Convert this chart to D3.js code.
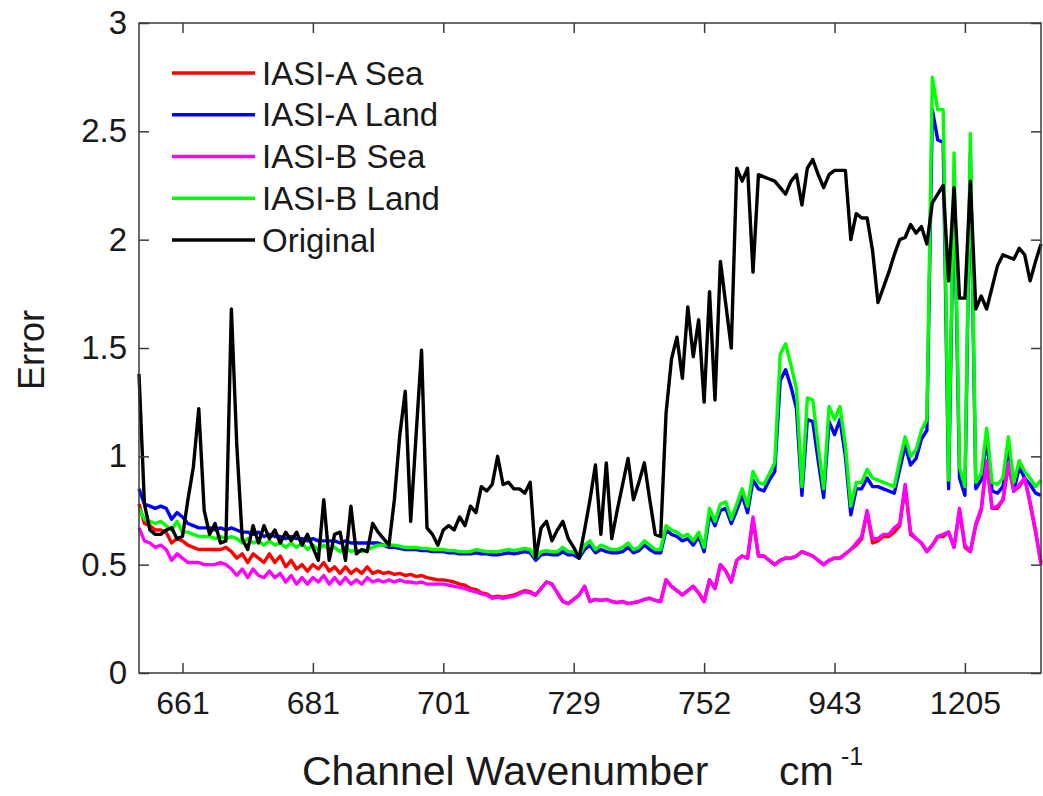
<!DOCTYPE html>
<html>
<head>
<meta charset="utf-8">
<script src="https://cdn.jsdelivr.net/npm/d3@7"></script>
<style>
  body { margin: 0; background: #fff; }
  svg text { font-family: "Liberation Sans", Arial, Helvetica, sans-serif; fill: #1a1a1a; }
</style>
</head>
<body>
<svg id="chart" width="1043" height="796"></svg>
<script>
// channel index 1..167, labelled every 24 channels with wavenumber
const tickChannels = [9, 33, 57, 81, 105, 129, 153];
const tickLabels = ['661', '681', '701', '729', '752', '943', '1205'];
const yTicks = [0, 0.5, 1, 1.5, 2, 2.5, 3];

const iasiASea = [
  0.78, 0.69, 0.68, 0.66, 0.66, 0.65, 0.60, 0.62, 0.61, 0.59,
  0.58, 0.57, 0.57, 0.57, 0.57, 0.57, 0.58, 0.56, 0.53, 0.55,
  0.51, 0.55, 0.53, 0.51, 0.55, 0.51, 0.54, 0.49, 0.52, 0.48,
  0.50, 0.47, 0.50, 0.48, 0.51, 0.47, 0.49, 0.46, 0.49, 0.46,
  0.48, 0.46, 0.49, 0.46, 0.47, 0.46, 0.465, 0.455, 0.46, 0.45,
  0.455, 0.445, 0.45, 0.44, 0.435, 0.43, 0.43, 0.425, 0.42, 0.41,
  0.405, 0.39, 0.385, 0.37, 0.365, 0.35, 0.355, 0.35, 0.355, 0.36,
  0.37, 0.38, 0.375, 0.36, 0.39, 0.42, 0.41, 0.37, 0.33, 0.32,
  0.34, 0.36, 0.40, 0.33, 0.34, 0.335, 0.34, 0.33, 0.325, 0.33,
  0.32, 0.325, 0.33, 0.34, 0.345, 0.335, 0.33, 0.43, 0.40, 0.38,
  0.36, 0.38, 0.40, 0.37, 0.33, 0.43, 0.39, 0.50, 0.47, 0.42,
  0.52, 0.54, 0.53, 0.71, 0.54, 0.54, 0.52, 0.50, 0.52, 0.53,
  0.53, 0.54, 0.56, 0.55, 0.54, 0.52, 0.50, 0.52, 0.53, 0.53,
  0.55, 0.57, 0.59, 0.62, 0.74, 0.60, 0.61, 0.63, 0.63, 0.65,
  0.68, 0.86, 0.64, 0.62, 0.60, 0.56, 0.59, 0.63, 0.63, 0.65,
  0.58, 0.75, 0.58, 0.56, 0.68, 0.75, 0.97, 0.76, 0.76, 0.80,
  0.96, 0.84, 0.86, 0.90, 0.78, 0.65, 0.51
];

const iasiALand = [
  0.85, 0.78, 0.77, 0.76, 0.77, 0.76, 0.71, 0.74, 0.72, 0.69,
  0.68, 0.67, 0.67, 0.67, 0.66, 0.67, 0.66, 0.67, 0.66, 0.65,
  0.65, 0.64, 0.65, 0.63, 0.64, 0.63, 0.63, 0.62, 0.63, 0.62,
  0.62, 0.61, 0.62, 0.61, 0.61, 0.61, 0.61, 0.60, 0.61, 0.60,
  0.60, 0.60, 0.60, 0.60, 0.60, 0.59, 0.58, 0.58, 0.575, 0.57,
  0.57, 0.57, 0.565, 0.565, 0.56, 0.56, 0.56, 0.555, 0.555, 0.55,
  0.55, 0.55, 0.555, 0.55, 0.55, 0.545, 0.545, 0.55, 0.555, 0.55,
  0.555, 0.56, 0.555, 0.52, 0.545, 0.55, 0.545, 0.545, 0.56, 0.545,
  0.545, 0.53, 0.57, 0.59, 0.555, 0.57, 0.56, 0.555, 0.555, 0.56,
  0.58, 0.555, 0.565, 0.59, 0.57, 0.555, 0.555, 0.66, 0.64, 0.63,
  0.61, 0.62, 0.59, 0.63, 0.56, 0.73, 0.68, 0.75, 0.76, 0.69,
  0.75, 0.82, 0.74, 0.89, 0.85, 0.84, 0.89, 0.93, 1.35, 1.40,
  1.32, 1.22, 0.82, 1.17, 1.16, 0.98, 0.81, 1.16, 1.10, 1.17,
  1.00, 0.73, 0.85, 0.85, 0.90, 0.86, 0.86, 0.85, 0.84, 0.83,
  0.94, 1.05, 0.96, 0.99, 1.08, 1.12, 2.60, 2.46, 2.45, 0.85,
  2.30, 0.90, 0.82, 2.40, 0.85, 0.89, 1.08, 0.84, 0.83, 0.86,
  1.05, 0.84, 0.95, 0.90, 0.87, 0.83, 0.82
];

const iasiBSea = [
  0.67, 0.61, 0.60, 0.58, 0.59, 0.57, 0.52, 0.55, 0.53, 0.51,
  0.51, 0.51, 0.50, 0.50, 0.50, 0.51, 0.50, 0.48, 0.45, 0.48,
  0.44, 0.48, 0.45, 0.44, 0.47, 0.44, 0.46, 0.42, 0.45, 0.41,
  0.44, 0.41, 0.44, 0.42, 0.45, 0.41, 0.44, 0.41, 0.44, 0.41,
  0.43, 0.41, 0.44, 0.42, 0.43, 0.42, 0.43, 0.42, 0.43, 0.42,
  0.42, 0.415, 0.42, 0.41, 0.41, 0.41, 0.41, 0.405, 0.40, 0.395,
  0.39, 0.38, 0.375, 0.365, 0.36, 0.345, 0.35, 0.345, 0.35, 0.355,
  0.365, 0.375, 0.37, 0.36, 0.39, 0.42, 0.41, 0.37, 0.33, 0.32,
  0.34, 0.36, 0.40, 0.33, 0.34, 0.335, 0.34, 0.33, 0.325, 0.33,
  0.32, 0.325, 0.33, 0.34, 0.345, 0.335, 0.33, 0.43, 0.40, 0.38,
  0.36, 0.38, 0.40, 0.37, 0.33, 0.43, 0.39, 0.50, 0.47, 0.42,
  0.52, 0.54, 0.53, 0.72, 0.54, 0.54, 0.52, 0.50, 0.52, 0.53,
  0.53, 0.54, 0.56, 0.55, 0.54, 0.52, 0.50, 0.52, 0.53, 0.53,
  0.55, 0.57, 0.60, 0.63, 0.75, 0.62, 0.62, 0.64, 0.64, 0.67,
  0.69, 0.87, 0.65, 0.62, 0.60, 0.56, 0.59, 0.63, 0.64, 0.65,
  0.58, 0.76, 0.59, 0.56, 0.69, 0.76, 0.98, 0.76, 0.77, 0.80,
  0.97, 0.84, 0.87, 0.90, 0.79, 0.66, 0.50
];

const iasiBLand = [
  0.76, 0.71, 0.70, 0.69, 0.70, 0.68, 0.66, 0.70, 0.65, 0.65,
  0.64, 0.63, 0.63, 0.63, 0.62, 0.63, 0.62, 0.63, 0.62, 0.60,
  0.62, 0.60, 0.61, 0.59, 0.61, 0.59, 0.60, 0.58, 0.60, 0.58,
  0.60, 0.57, 0.59, 0.57, 0.59, 0.57, 0.58, 0.56, 0.58, 0.56,
  0.57, 0.56, 0.57, 0.58, 0.59, 0.59, 0.59, 0.59, 0.585, 0.58,
  0.58, 0.58, 0.575, 0.575, 0.57, 0.57, 0.57, 0.565, 0.565, 0.56,
  0.56, 0.56, 0.57, 0.565, 0.56, 0.56, 0.56, 0.565, 0.57, 0.565,
  0.57, 0.575, 0.57, 0.53, 0.56, 0.565, 0.56, 0.56, 0.58, 0.56,
  0.56, 0.54, 0.59, 0.61, 0.57, 0.59, 0.58, 0.57, 0.57, 0.58,
  0.60, 0.57, 0.58, 0.61, 0.59, 0.57, 0.57, 0.68, 0.66, 0.65,
  0.63, 0.64, 0.61, 0.65, 0.58, 0.76, 0.70, 0.78, 0.79, 0.71,
  0.78, 0.85, 0.77, 0.93, 0.88, 0.87, 0.92, 0.97, 1.47, 1.52,
  1.42, 1.31, 0.86, 1.27, 1.26, 1.05, 0.85, 1.23, 1.17, 1.23,
  1.05, 0.77, 0.88, 0.88, 0.94, 0.90, 0.89, 0.88, 0.87, 0.86,
  0.98, 1.09, 1.00, 1.03, 1.12, 1.17, 2.75, 2.60, 2.60, 0.89,
  2.40, 0.95, 0.86, 2.49, 0.88, 0.92, 1.13, 0.88, 0.87, 0.90,
  1.09, 0.88, 0.98, 0.93, 0.90, 0.86, 0.89
];

const original = [
  1.38, 0.78, 0.66, 0.64, 0.64, 0.66, 0.67, 0.62, 0.63, 0.80,
  0.95, 1.22, 0.75, 0.64, 0.69, 0.60, 0.61, 1.68, 1.05, 0.62,
  0.57, 0.68, 0.60, 0.68, 0.62, 0.66, 0.60, 0.65, 0.61, 0.65,
  0.59, 0.64, 0.58, 0.52, 0.80, 0.52, 0.64, 0.65, 0.52, 0.77,
  0.55, 0.57, 0.56, 0.69, 0.65, 0.62, 0.59, 0.80, 1.10, 1.30,
  0.70, 1.10, 1.49, 0.67, 0.64, 0.59, 0.66, 0.68, 0.66, 0.72,
  0.68, 0.77, 0.74, 0.86, 0.84, 0.87, 1.00, 0.87, 0.88, 0.85,
  0.85, 0.83, 0.88, 0.53, 0.67, 0.70, 0.61, 0.66, 0.70, 0.62,
  0.58, 0.53, 0.66, 0.80, 0.96, 0.64, 0.97, 0.62, 0.75, 0.87,
  0.99, 0.80, 0.88, 0.97, 0.80, 0.64, 0.63, 1.20, 1.45, 1.55,
  1.36, 1.69, 1.46, 1.63, 1.25, 1.76, 1.26, 1.90, 1.70, 1.50,
  2.33, 2.27, 2.33, 1.85, 2.30, 2.29, 2.28, 2.27, 2.24, 2.21,
  2.27, 2.30, 2.16, 2.33, 2.37, 2.30, 2.24, 2.30, 2.32, 2.32,
  2.32, 2.00, 2.12, 2.10, 2.10, 1.95, 1.71, 1.78, 1.85, 1.93,
  2.00, 2.01, 2.07, 2.03, 2.06, 1.98, 2.17, 2.21, 2.25, 1.81,
  2.24, 1.73, 1.73, 2.27, 1.68, 1.74, 1.68, 1.78, 1.88, 1.93,
  1.92, 1.91, 1.96, 1.93, 1.81, 1.90, 1.98
];

const seriesNames = ['IASI-A Sea', 'IASI-A Land', 'IASI-B Sea', 'IASI-B Land', 'Original'];
const seriesColors = ['#ff0000', '#0000ff', '#ff00ff', '#00ff00', '#000000'];
const seriesValues = [iasiASea, iasiALand, iasiBSea, iasiBLand, original];

const LEFT = 139, RIGHT = 1041, TOP = 23, BOTTOM = 673;
const TICK_LEN = 10;
const AXIS_COLOR = '#3a3a3a';

const svg = d3.select('#chart');

const x = d3.scaleLinear()
  .domain([1, original.length])
  .range([LEFT, RIGHT]);

const y = d3.scaleLinear()
  .domain([0, 3])
  .range([BOTTOM, TOP]);

drawLines();
drawAxes();
drawLegend();
drawTitles();

function drawLines() {
  const line = d3.line()
    .x((d, i) => x(i + 1))
    .y(d => y(d));

  svg.append('g')
    .attr('class', 'lines')
    .selectAll('path')
    .data(seriesValues)
    .enter()
    .append('path')
    .attr('d', d => line(d))
    .attr('fill', 'none')
    .attr('stroke', (d, i) => seriesColors[i])
    .attr('stroke-width', 3.4)
    .attr('stroke-linejoin', 'round');
}

function drawAxes() {
  const styleAxis = g => {
    g.select('.domain').remove();
    g.selectAll('.tick line')
      .attr('stroke', AXIS_COLOR)
      .attr('stroke-width', 1.5);
  };

  svg.append('g')
    .attr('transform', `translate(0, ${BOTTOM})`)
    .call(d3.axisBottom(x)
      .tickValues(tickChannels)
      .tickSize(-TICK_LEN)
      .tickPadding(18)
      .tickFormat((d, i) => tickLabels[i]))
    .call(styleAxis)
    .selectAll('text')
    .attr('font-size', 32)
    .attr('fill', '#1a1a1a');

  svg.append('g')
    .attr('transform', `translate(0, ${TOP})`)
    .call(d3.axisTop(x)
      .tickValues(tickChannels)
      .tickSize(-TICK_LEN)
      .tickFormat(''))
    .call(styleAxis);

  svg.append('g')
    .attr('transform', `translate(${LEFT}, 0)`)
    .call(d3.axisLeft(y)
      .tickValues(yTicks)
      .tickSize(-TICK_LEN)
      .tickPadding(12)
      .tickFormat(d3.format('')))
    .call(styleAxis)
    .selectAll('text')
    .attr('font-size', 33)
    .attr('fill', '#1a1a1a');

  svg.append('g')
    .attr('transform', `translate(${RIGHT}, 0)`)
    .call(d3.axisRight(y)
      .tickValues(yTicks)
      .tickSize(-TICK_LEN)
      .tickFormat(''))
    .call(styleAxis);

  svg.append('rect')
    .attr('x', LEFT)
    .attr('y', TOP)
    .attr('width', RIGHT - LEFT)
    .attr('height', BOTTOM - TOP)
    .attr('fill', 'none')
    .attr('stroke', AXIS_COLOR)
    .attr('stroke-width', 1.5);
}

function drawLegend() {
  const legend = svg.append('g')
    .attr('class', 'legend')
    .selectAll('g')
    .data(seriesNames)
    .enter()
    .append('g')
    .attr('transform', (d, i) => `translate(172, ${73 + i * 41.75})`);

  legend.append('line')
    .attr('x1', 0)
    .attr('x2', 83)
    .attr('stroke', (d, i) => seriesColors[i])
    .attr('stroke-width', 3.5);

  legend.append('text')
    .attr('x', 90)
    .attr('dy', '0.35em')
    .attr('font-size', 33)
    .text(d => d);
}

function drawTitles() {
  svg.append('text')
    .attr('x', 302)
    .attr('y', 785)
    .attr('font-size', 41)
    .text('Channel Wavenumber');

  svg.append('text')
    .attr('x', 779)
    .attr('y', 785)
    .attr('font-size', 41)
    .text('cm');

  svg.append('text')
    .attr('x', 841)
    .attr('y', 765)
    .attr('font-size', 25)
    .text('-1');

  svg.append('text')
    .attr('transform', 'translate(44, 350) rotate(-90)')
    .attr('text-anchor', 'middle')
    .attr('font-size', 36)
    .text('Error');
}
</script>
</body>
</html>
